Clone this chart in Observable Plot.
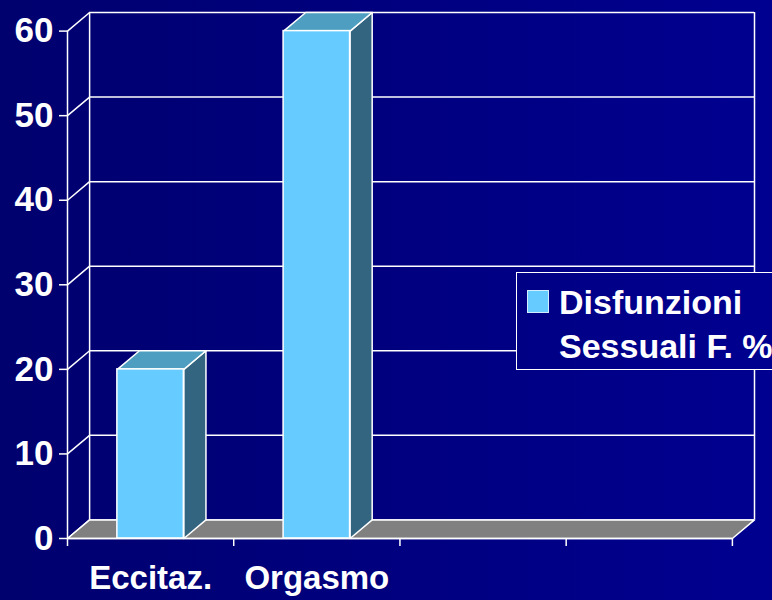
<!DOCTYPE html>
<html>
<head>
<meta charset="utf-8">
<script src="https://cdn.jsdelivr.net/npm/d3@7"></script>
<script src="https://cdn.jsdelivr.net/npm/@observablehq/plot@0.6"></script>
<style>
  html, body { margin: 0; padding: 0; width: 772px; height: 600px; overflow: hidden; }
  body {
    background: linear-gradient(to right, #00006e, #000090);
    background-attachment: fixed;
    font-family: "Liberation Sans", Arial, sans-serif;
    position: relative;
  }
  #legend {
    position: absolute; left: 516px; top: 272px; width: 300px; height: 98px;
    border: 1.5px solid #ffffff; box-sizing: border-box;
    background: linear-gradient(to right, #00006e, #000090);
    background-attachment: fixed;
    color: #ffffff; font-weight: bold; font-size: 34px; line-height: 44px;
  }
  #legend .sw { position: absolute; left: 10px; top: 17px; width: 22px; height: 23px;
    background: #66ccff; box-sizing: border-box; border: 1px solid #cfefff; }
  #legend .tx { position: absolute; left: 42px; top: 7px; white-space: nowrap; }
</style>
</head>
<body>
<div id="chart"></div>
<div id="legend"><div class="sw"></div><div class="tx">Disfunzioni<br>Sessuali F. %</div></div>
<script>
const categories = ["Eccitaz.", "Orgasmo", "", ""];
const values = [20, 60, null, null];
const yTicks = [0, 10, 20, 30, 40, 50, 60];
const seriesName = "Disfunzioni Sessuali F. %";

const n = categories.length;
const yMax = 60;
const DX = 0.133;   // depth offset in x units
const DY = 2.2;     // depth offset in y units
const barLo = 0.3, barHi = 0.7;

const bars = values.map((v, i) => ({i, v, x1: i + barLo, x2: i + barHi})).filter(d => d.v != null);

const floorPts = [
  {x: 0, y: 0}, {x: n, y: 0}, {x: n + DX, y: DY}, {x: DX, y: DY}, {x: 0, y: 0}
];
const sidePts = bars.flatMap(b => [
  {id: b.i, x: b.x2, y: 0}, {id: b.i, x: b.x2 + DX, y: DY},
  {id: b.i, x: b.x2 + DX, y: b.v + DY}, {id: b.i, x: b.x2, y: b.v}, {id: b.i, x: b.x2, y: 0}
]);
const topPts = bars.flatMap(b => [
  {id: b.i, x: b.x1, y: b.v}, {id: b.i, x: b.x2, y: b.v},
  {id: b.i, x: b.x2 + DX, y: b.v + DY}, {id: b.i, x: b.x1 + DX, y: b.v + DY}, {id: b.i, x: b.x1, y: b.v}
]);

const W = "#ffffff";
const sw = 1.5;

const plot = Plot.plot({
  width: 772,
  height: 600,
  marginLeft: 67,
  marginRight: 18,
  marginTop: 12,
  marginBottom: 62,
  style: {background: "transparent", color: W, fontFamily: "Liberation Sans, Arial, sans-serif", fontWeight: "bold", overflow: "visible"},
  x: {domain: [0, n + DX]},
  y: {domain: [0, yMax + DY]},
  marks: [
    Plot.ruleY(yTicks, {y: d => d + DY, x1: DX, x2: n + DX, stroke: W, strokeWidth: sw}),
    Plot.ruleX([DX, n + DX], {y1: DY, y2: yMax + DY, stroke: W, strokeWidth: sw}),
    Plot.link(yTicks, {x1: 0, y1: d => d, x2: DX, y2: d => d + DY, stroke: W, strokeWidth: sw}),
    Plot.line(floorPts, {x: "x", y: "y", fill: "#808080", stroke: W, strokeWidth: sw}),
    Plot.line(sidePts, {x: "x", y: "y", z: "id", fill: "#336480", stroke: W, strokeWidth: sw}),
    Plot.line(topPts, {x: "x", y: "y", z: "id", fill: "#4d9ec0", stroke: W, strokeWidth: sw}),
    Plot.rect(bars, {x1: "x1", x2: "x2", y1: 0, y2: "v", fill: "#66ccff", stroke: W, strokeWidth: sw}),
    Plot.ruleX([0], {y1: 0, y2: yMax, stroke: W, strokeWidth: sw}),
    Plot.ruleY([0], {x1: 0, x2: n, stroke: W, strokeWidth: sw}),
    Plot.axisY(yTicks, {tickSize: 8, tickPadding: 6, fontSize: 35, fontWeight: "bold", stroke: W, strokeWidth: sw, fill: W}),
    Plot.axisX(d3.range(n + 1), {tickSize: 8, tickFormat: () => "", stroke: W, strokeWidth: sw}),
    Plot.text(categories, {x: (d, i) => i + 0.5, y: 0, dy: 40, text: d => d, fill: W, fontSize: 33, fontWeight: "bold"})
  ]
});
document.getElementById("chart").appendChild(plot);
</script>
</body>
</html>
